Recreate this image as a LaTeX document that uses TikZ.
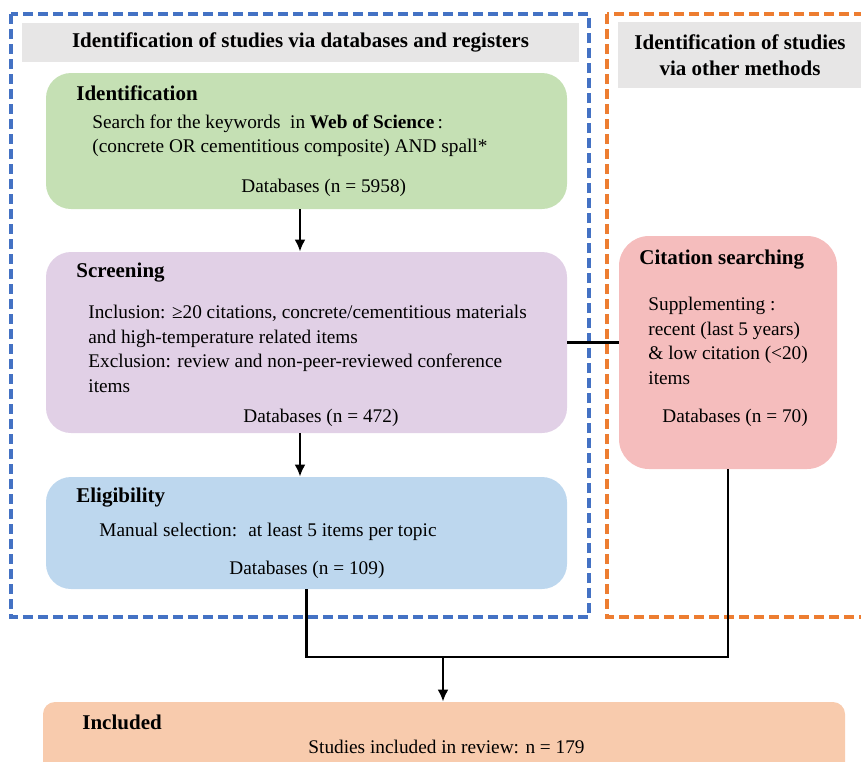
\documentclass[tikz,border=0pt]{standalone}
\usepackage{fontspec}
\setmainfont{Liberation Serif}
\usetikzlibrary{arrows.meta}
\definecolor{frameblue}{HTML}{4472C4}
\definecolor{frameorange}{HTML}{ED7D31}
\definecolor{hdrgray}{HTML}{E7E6E6}
\definecolor{idgreen}{HTML}{C5E0B4}
\definecolor{scrpurple}{HTML}{E1D0E6}
\definecolor{eligblue}{HTML}{BDD7EE}
\definecolor{citepink}{HTML}{F5BDBD}
\definecolor{inclpeach}{HTML}{F8CBAD}

\begin{document}
\begin{tikzpicture}[x=0.5pt,y=-0.5pt,
 stepbox/.style={rounded corners=12.5pt,inner sep=0pt},
 hdr/.style={fill=hdrgray,inner sep=0pt,align=center,font=\bfseries\fontsize{10.5}{13}\selectfont},
 ttl/.style={anchor=west,inner sep=0pt,font=\bfseries\fontsize{10.5}{12}\selectfont},
 txt/.style={anchor=west,inner sep=0pt,align=left,font=\fontsize{9.65}{12.25}\selectfont},
 conn/.style={line width=1.25pt},
 arr/.style={line width=1.25pt,-{Latex[length=6pt,width=5.5pt]}},
 frame/.style={line width=1.6pt,dash pattern=on 5pt off 2.5pt}]
 \clip (0,0) rectangle (861,761);
 % frames and headers
 \draw[frame,frameblue] (11,14) rectangle (589,617);
 \draw[frame,frameorange] (607,14) rectangle (890,617);
 \node[hdr,minimum width=278.5pt,minimum height=19.5pt] (hdrdb) at (300.5,42.5) {Identification of studies via databases and registers};
 \node[hdr,minimum width=122pt,minimum height=33pt] (hdrother) at (740,55) {Identification of studies\\via other methods};
 % boxes
 \node[stepbox,fill=idgreen,minimum width=260.5pt,minimum height=68pt] (ident) at (306.5,141) {};
 \node[stepbox,fill=scrpurple,minimum width=260.5pt,minimum height=90.5pt] (screen) at (306.5,342.5) {};
 \node[stepbox,fill=eligblue,minimum width=260.5pt,minimum height=56pt] (elig) at (306.5,533) {};
 \node[stepbox,rounded corners=15pt,fill=citepink,minimum width=109pt,minimum height=116.5pt] (cite) at (728,352.5) {};
 \node[stepbox,rounded corners=6pt,fill=inclpeach,minimum width=401pt,minimum height=49pt] (incl) at (444,751) {};
 % texts
 \node[ttl] (identttl) at (76,93) {Identification};
 \node[txt] (identtxt) at (92,136) {Search for the keywords~ in \textbf{Web of Science}\,:\\(concrete OR cementitious composite) AND spall*};
 \node[txt] (identn) at (241,188) {Databases (n = 5958)};
 \node[ttl] (screenttl) at (76,273) {Screening};
 \node[txt] (screentxt) at (88,349) {Inclusion: ≥20 citations, concrete/cementitious materials\\and high-temperature related items\\Exclusion: review and non-peer-reviewed conference\\items};
 \node[txt] (screenn) at (243,418) {Databases (n = 472)};
 \node[ttl] (eligttl) at (76,498) {Eligibility};
 \node[txt] (eligtxt) at (99,532) {Manual selection:~ at least 5 items per topic};
 \node[txt] (elign) at (229,570) {Databases (n = 109)};
 \node[ttl] (citettl) at (639,260) {Citation searching};
 \node[txt] (citetxt) at (648,341) {Supplementing :\\recent (last 5 years)\\\& low citation (<20)\\items};
 \node[txt] (citen) at (662,418) {Databases (n = 70)};
 \node[ttl] (inclttl) at (82,722) {Included};
 \node[txt] (incltxt) at (308,747) {Studies included in review: n = 179};
 % connectors
 \coordinate (merge) at (443,657);
 \draw[arr] ([xshift=-3.25pt]ident.south) -- ([xshift=-3.25pt]screen.north);
 \draw[arr] ([xshift=-3.25pt]screen.south) -- ([xshift=-3.25pt]elig.north);
 \draw[conn] (screen.east) -- (screen.east -| cite.west);
 \draw[conn] (elig.south) |- (merge) -| (cite.south);
 \draw[arr] (merge) -- (incl.north -| merge);
\end{tikzpicture}
\end{document}
